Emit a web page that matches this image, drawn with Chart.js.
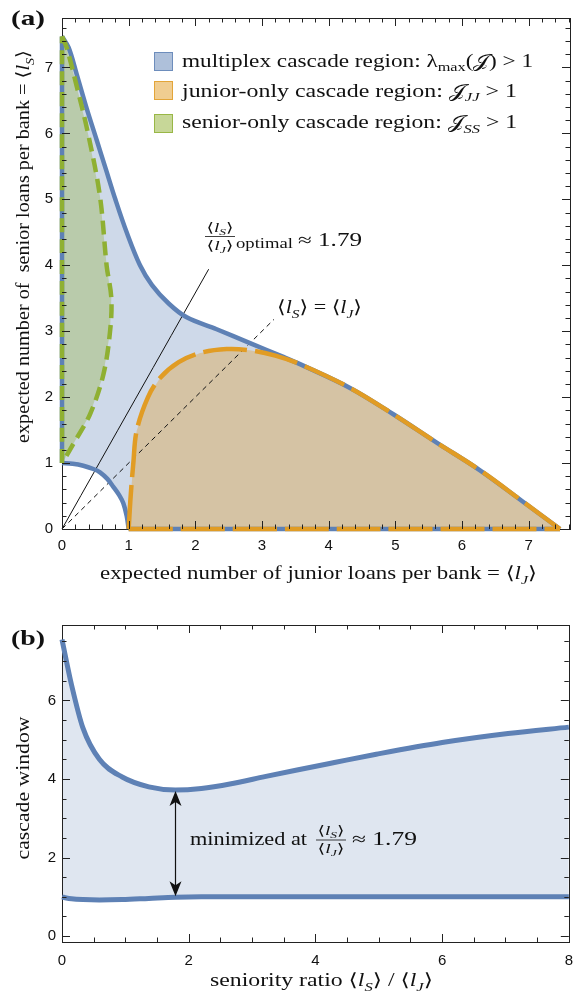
<!DOCTYPE html>
<html>
<head>
<meta charset="utf-8">
<script src="https://cdn.jsdelivr.net/npm/chart.js@4"></script>
<style>
html, body { margin: 0; padding: 0; background: #fff; }
#wrap { position: relative; width: 583px; height: 1000px; }
canvas { position: absolute; left: 0; }
</style>
</head>
<body>
<div id="wrap">
  <canvas id="chartA" width="583" height="600" style="top:0"></canvas>
  <canvas id="chartB" width="583" height="400" style="top:600px"></canvas>
</div>
<script>
// ---- panel (a): region boundaries in the (<l_J>, <l_S>) plane
const outerJ = [0, 0.1, 0.22, 0.37, 0.52, 0.66, 0.8, 0.97, 1.17, 1.35, 1.6, 1.87, 2.32, 2.82, 3.32, 3.57, 4.32, 4.97, 5.62, 6.27, 6.92, 7.47];
const outerS = [7.47, 7.3, 6.9, 6.38, 5.9, 5.45, 5.0, 4.5, 4.0, 3.7, 3.42, 3.21, 3.03, 2.82, 2.61, 2.5, 2.14, 1.74, 1.31, 0.89, 0.41, 0];
const innerJ = [0, 0.16, 0.32, 0.47, 0.57, 0.68, 0.77, 0.86, 0.92, 0.97, 1.0];
const innerS = [1.0, 0.99, 0.96, 0.91, 0.86, 0.76, 0.64, 0.51, 0.39, 0.2, 0];
const juniorJ = [1.0, 1.03, 1.07, 1.12, 1.29, 1.47, 1.75, 2.07, 2.47, 2.82, 3.2, 3.57, 4.32, 4.97, 5.62, 6.27, 6.92, 7.47];
const juniorS = [0, 0.5, 1.0, 1.49, 2.0, 2.29, 2.53, 2.67, 2.73, 2.71, 2.63, 2.5, 2.14, 1.74, 1.31, 0.89, 0.41, 0];
const seniorJ = [0, 0.07, 0.2, 0.39, 0.57, 0.67, 0.74, 0.72, 0.62, 0.42, 0.17, 0.05, 0];
const seniorS = [7.47, 7.3, 6.8, 6.0, 5.04, 3.99, 3.5, 2.99, 2.34, 1.74, 1.29, 1.08, 1.0];
const optimalLineJ = [0, 2.2];
const optimalLineS = [0, 3.94];
const equalLineJ = [0, 3.18];
const equalLineS = [0, 3.18];
const xTicksA = [0, 1, 2, 3, 4, 5, 6, 7];
const yTicksA = [0, 1, 2, 3, 4, 5, 6, 7];

// ---- panel (b): cascade window vs seniority ratio
const optimalRatio = 1.79;
const ratio = [0, 0.07, 0.15, 0.33, 0.59, 0.95, 1.37, 1.79, 2.2, 2.67, 3.2, 3.71, 4.3, 4.96, 6.0, 7.04, 8.0];
const windowUpper = [7.55, 7.0, 6.4, 5.3, 4.5, 4.05, 3.8, 3.72, 3.76, 3.88, 4.06, 4.23, 4.42, 4.63, 4.93, 5.16, 5.32];
const windowLower = [1.0, 0.97, 0.95, 0.93, 0.92, 0.93, 0.96, 0.99, 1.0, 1.0, 1.0, 1.0, 1.0, 1.0, 1.0, 1.0, 1.0];
const xTicksB = [0, 2, 4, 6, 8];
const yTicksB = [0, 2, 4, 6];

const BLUE = 'rgb(94,129,181)', ORANGE = 'rgb(225,156,36)', GREEN = 'rgb(143,176,50)';
const SERIF = '"Liberation Serif", "Times New Roman", "DejaVu Serif", serif';
const SANS = '"Liberation Sans", Arial, sans-serif';

const pts = (xs, ys) => xs.map((x, i) => ({x: x, y: ys[i]}));
const rev = a => a.slice().reverse();

// ---- rich text helpers (italic l, subscripts, horizontally fitted)
const T = t => ({t});
const It = t => ({t, i: true});
const Sub = (t, it = true) => ({t, i: it, s: 0.7, dy: 0.25});
const avg = l => [T('⟨'), It('l'), Sub(l), T('⟩')];

function fontOf(r, size) {
  return (r.i ? 'italic ' : '') + (r.b ? 'bold ' : '') + (size * (r.s || 1)).toFixed(2) + 'px ' + SERIF;
}
function richWidth(ctx, runs, size) {
  let w = 0;
  for (const r of runs) { ctx.font = fontOf(r, size); w += ctx.measureText(r.t).width; }
  return w;
}
function drawRich(ctx, runs, o) {
  const nat = richWidth(ctx, runs, o.size);
  const sx = o.width ? o.width / nat : 1;
  ctx.save();
  ctx.translate(o.x, o.y);
  if (o.rot) ctx.rotate(o.rot);
  ctx.scale(sx, 1);
  let x = o.align === 'center' ? -nat / 2 : 0;
  ctx.fillStyle = '#111';
  ctx.textAlign = 'left';
  ctx.textBaseline = 'alphabetic';
  for (const r of runs) {
    ctx.font = fontOf(r, o.size);
    ctx.fillText(r.t, x, (r.dy || 0) * o.size);
    x += ctx.measureText(r.t).width;
  }
  ctx.restore();
}
function drawFrac(ctx, cx, yBar, size) {
  drawRich(ctx, avg('S'), {x: cx, y: yBar - 5, size: size, align: 'center', width: 27});
  drawRich(ctx, avg('J'), {x: cx, y: yBar + 13, size: size, align: 'center', width: 27});
  ctx.fillStyle = '#111';
  ctx.fillRect(cx - 15, yBar - 0.4, 30, 0.8);
}

// ---- shared plugins
const frameTicks = {
  id: 'frameTicks',
  beforeDatasetsDraw(chart) {
    const {ctx, chartArea: a} = chart;
    ctx.save();
    ctx.strokeStyle = '#222';
    ctx.lineWidth = 1;
    ctx.strokeRect(Math.round(a.left) + 0.5, Math.round(a.top) + 0.5, Math.round(a.right - a.left), Math.round(a.bottom - a.top));
    ctx.restore();
  },
  afterDatasetsDraw(chart, args, opts) {
    const {ctx, chartArea: a, scales} = chart;
    ctx.save();
    ctx.strokeStyle = '#222';
    ctx.lineWidth = 1;
    ctx.beginPath();
    for (const id of ['x', 'y']) {
      const s = scales[id];
      const step = opts[id];
      const major = s.ticks.map(t => t.value);
      const n0 = Math.ceil(s.min / step - 1e-9), n1 = Math.floor(s.max / step + 1e-9);
      for (let k = n0; k <= n1; k++) {
        const v = k * step;
        const len = major.some(m => Math.abs(m - v) < 1e-6) ? 8 : 4.5;
        const p = Math.round(s.getPixelForValue(v)) + 0.5;
        if (id === 'x') {
          ctx.moveTo(p, a.bottom); ctx.lineTo(p, a.bottom - len);
          ctx.moveTo(p, a.top); ctx.lineTo(p, a.top + len);
        } else {
          ctx.moveTo(a.left, p); ctx.lineTo(a.left + len, p);
          ctx.moveTo(a.right, p); ctx.lineTo(a.right - len, p);
        }
      }
    }
    ctx.stroke();
    ctx.restore();
  }
};

// fills a dataset's points as a closed polygon (regions of panel a)
const polyFill = {
  id: 'polyFill',
  beforeDatasetDraw(chart, args) {
    const ds = chart.data.datasets[args.index];
    if (!ds.polyFill) return;
    const {ctx, chartArea: a} = chart;
    ctx.save();
    ctx.beginPath();
    ctx.rect(a.left, a.top, a.right - a.left, a.bottom - a.top);
    ctx.clip();
    ctx.beginPath();
    args.meta.data.forEach((p, i) => i ? ctx.lineTo(p.x, p.y) : ctx.moveTo(p.x, p.y));
    ctx.closePath();
    ctx.fillStyle = ds.polyFill;
    ctx.fill();
    ctx.restore();
  }
};

function axis(min, max, ticks, pad, fit) {
  return {
    type: 'linear', min: min, max: max,
    grid: {display: false, drawTicks: false},
    border: {display: false},
    ticks: {padding: pad, color: '#111', font: {family: SANS, size: 15}, autoSkip: false, maxRotation: 0},
    afterBuildTicks: s => { s.ticks = ticks.map(v => ({value: v})); },
    afterFit: fit
  };
}

function region(data, color) {
  return {data: data, polyFill: color, showLine: false, pointRadius: 0};
}
function curve(data, color, width, dash) {
  return {data: data, showLine: true, borderColor: color, borderWidth: width, borderDash: dash || [],
          pointRadius: 0, tension: 0.35, clip: 8, fill: false, borderCapStyle: 'butt'};
}

// ---- panel (a)
const edgeLeft = pts([0, 0], [1, 7.47]);
const edgeBottom = pts([1, 7.47], [0, 0]);
const dsA = [
  region(pts(outerJ.concat(rev(innerJ)), outerS.concat(rev(innerS))), 'rgba(94,129,181,0.3)'),
  region(pts(juniorJ, juniorS), 'rgba(225,156,36,0.35)'),
  region(pts(seniorJ, seniorS), 'rgba(143,176,50,0.34)'),
  curve(pts(optimalLineJ, optimalLineS), '#111', 1),
  curve(pts(equalLineJ, equalLineS), '#111', 1, [5, 4]),
  curve(edgeLeft, BLUE, 4.5),
  curve(edgeBottom, BLUE, 4.5),
  curve(pts(innerJ, innerS), BLUE, 4.5),
  curve(pts(outerJ, outerS), BLUE, 4.5),
  curve(pts(juniorJ, juniorS), ORANGE, 4.5, [44, 8]),
  curve(edgeBottom, ORANGE, 4.5, [44, 8]),
  curve(pts(seniorJ, seniorS), GREEN, 4.5, [14, 7]),
  curve(edgeLeft, GREEN, 4.5, [14, 7])
];
dsA.forEach((d, i) => { d.order = -i; });

const legendA = [
  {fill: 'rgba(94,129,181,0.5)', edge: 'rgba(94,129,181,0.8)', top: 52, y: 66.5, w: 351,
   runs: [T('multiplex cascade region: λ'), Sub('max', false), T('('), T('𝒥'), T(') > 1')]},
  {fill: 'rgba(225,156,36,0.5)', edge: 'rgba(225,156,36,0.8)', top: 81, y: 96.5, w: 335,
   runs: [T('junior-only cascade region: '), T('𝒥'), Sub('JJ'), T(' > 1')]},
  {fill: 'rgba(143,176,50,0.5)', edge: 'rgba(143,176,50,0.8)', top: 114, y: 128, w: 335,
   runs: [T('senior-only cascade region: '), T('𝒥'), Sub('SS'), T(' > 1')]}
];

const textA = {
  id: 'textA',
  afterDraw(chart) {
    const ctx = chart.ctx;
    drawRich(ctx, [{t: '(a)', b: true}], {x: 11, y: 25, size: 21, width: 34});
    drawRich(ctx, [T('expected number of  senior loans per bank = ')].concat(avg('S')),
             {x: 29, y: 246.5, rot: -Math.PI / 2, size: 18, width: 393, align: 'center'});
    drawRich(ctx, [T('expected number of junior loans per bank = ')].concat(avg('J')),
             {x: 318.5, y: 579, size: 18, width: 437, align: 'center'});
    for (const l of legendA) {
      ctx.fillStyle = l.fill;
      ctx.fillRect(154, l.top, 19, 19);
      ctx.strokeStyle = l.edge;
      ctx.lineWidth = 1;
      ctx.strokeRect(154.5, l.top + 0.5, 18, 18);
      drawRich(ctx, l.runs, {x: 182, y: l.y, size: 18, width: l.w});
    }
    drawFrac(ctx, 220, 236.5, 13);
    drawRich(ctx, [T('optimal')], {x: 236, y: 248, size: 15, width: 57});
    drawRich(ctx, [T('≈ 1.79')], {x: 298, y: 246, size: 18, width: 64});
    drawRich(ctx, avg('S').concat([T(' = ')], avg('J')), {x: 277, y: 313, size: 18, width: 85});
  }
};

new Chart(document.getElementById('chartA'), {
  type: 'scatter',
  data: {datasets: dsA},
  options: {
    responsive: false, animation: false, events: [],
    layout: {padding: {top: 13, right: 13, left: 0, bottom: 0}},
    scales: {
      x: axis(0, 7.62, xTicksA, 8, s => { s.height = 71; }),
      y: axis(0, 7.75, yTicksA, 9, s => { s.width = 62; })
    },
    plugins: {legend: {display: false}, tooltip: {enabled: false}, frameTicks: {x: 0.2, y: 0.2}}
  },
  plugins: [polyFill, frameTicks, textA]
});

// ---- panel (b)
const iOpt = ratio.indexOf(optimalRatio);
const textB = {
  id: 'textB',
  afterDatasetsDraw(chart) {
    const {ctx, scales: {x, y}} = chart;
    const px = Math.round(x.getPixelForValue(optimalRatio)) + 0.5;
    const yTop = y.getPixelForValue(windowUpper[iOpt]) + 1;
    const yBot = y.getPixelForValue(windowLower[iOpt]) - 1;
    ctx.save();
    ctx.strokeStyle = '#111';
    ctx.fillStyle = '#111';
    ctx.lineWidth = 1.2;
    ctx.beginPath(); ctx.moveTo(px, yTop + 10); ctx.lineTo(px, yBot - 10); ctx.stroke();
    ctx.beginPath(); ctx.moveTo(px, yTop); ctx.lineTo(px - 6, yTop + 15); ctx.lineTo(px, yTop + 11); ctx.lineTo(px + 6, yTop + 15); ctx.closePath(); ctx.fill();
    ctx.beginPath(); ctx.moveTo(px, yBot); ctx.lineTo(px - 6, yBot - 15); ctx.lineTo(px, yBot - 11); ctx.lineTo(px + 6, yBot - 15); ctx.closePath(); ctx.fill();
    ctx.restore();
  },
  afterDraw(chart) {
    const ctx = chart.ctx;
    drawRich(ctx, [{t: '(b)', b: true}], {x: 11, y: 45, size: 21, width: 34});
    drawRich(ctx, [T('cascade window')], {x: 29, y: 188, rot: -Math.PI / 2, size: 18, width: 143, align: 'center'});
    drawRich(ctx, [T('seniority ratio ')].concat(avg('S'), [T(' / ')], avg('J')), {x: 210, y: 386, size: 18, width: 223});
    drawRich(ctx, [T('minimized at')], {x: 190, y: 245, size: 18, width: 117});
    drawFrac(ctx, 331, 240, 13);
    drawRich(ctx, [T('≈ 1.79')], {x: 352, y: 245, size: 18, width: 65});
  }
};

new Chart(document.getElementById('chartB'), {
  type: 'scatter',
  data: {
    datasets: [
      {data: pts(ratio, windowUpper), showLine: true, borderColor: BLUE, borderWidth: 5, pointRadius: 0,
       cubicInterpolationMode: 'monotone', fill: '+1', backgroundColor: 'rgba(94,129,181,0.2)', clip: 8},
      {data: pts(ratio, windowLower), showLine: true, borderColor: BLUE, borderWidth: 5, pointRadius: 0,
       cubicInterpolationMode: 'monotone', fill: false, clip: 8}
    ]
  },
  options: {
    responsive: false, animation: false, events: [],
    layout: {padding: {top: 25, right: 8, left: 0, bottom: 0}},
    scales: {
      x: axis(0, 8, xTicksB, 10, s => { s.height = 58; }),
      y: axis(-0.15, 7.92, yTicksB, 6, s => { s.width = 62; })
    },
    plugins: {legend: {display: false}, tooltip: {enabled: false}, filler: {drawTime: 'beforeDatasetsDraw'},
              frameTicks: {x: 0.5, y: 0.5}}
  },
  plugins: [frameTicks, textB]
});
</script>
</body>
</html>
